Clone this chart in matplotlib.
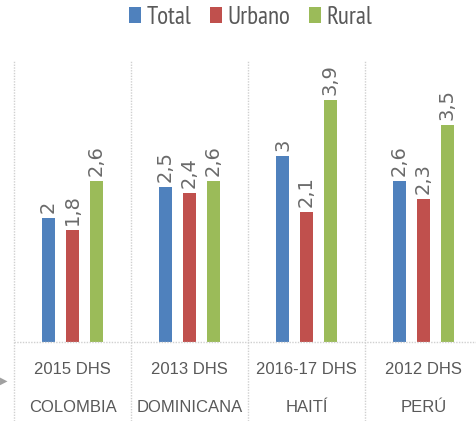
import matplotlib.pyplot as plt
import numpy as np
from matplotlib import font_manager

# data
surveys = ['2015 DHS', '2013 DHS', '2016-17 DHS', '2012 DHS']
countries = ['COLOMBIA', 'DOMINICANA', 'HAITÍ', 'PERÚ']
series = ['Total', 'Urbano', 'Rural']
total = [2.0, 2.5, 3.0, 2.6]
urbano = [1.8, 2.4, 2.1, 2.3]
rural = [2.6, 2.6, 3.9, 3.5]
colors = ['#4F81BD', '#C0504D', '#9BBB59']

names = {f.name for f in font_manager.fontManager.ttflist}


def pick(*cands):
    for c in cands:
        if c in names:
            return c
    return 'DejaVu Sans'


narrow = pick('PT Sans Narrow', 'Open Sans Condensed', 'Archivo Narrow', 'Roboto Condensed')
plt.rcParams['font.family'] = ['DejaVu Sans']
grey = '#595959'

W, H = 477, 421
fig = plt.figure(figsize=(W / 100, H / 100), dpi=100)
base_y = 342
top_y = 61
left_x = 14
right_x = 482
ax = fig.add_axes([left_x / W, (H - base_y) / H, (right_x - left_x) / W, (base_y - top_y) / H])

x = np.arange(len(surveys))
step = 0.205
width = 0.115
for i, (vals, c, name) in enumerate(zip([total, urbano, rural], colors, series)):
    pos = x + (i - 1) * step
    ax.bar(pos, vals, width, color=c, label=name)
    for p, v in zip(pos, vals):
        lbl = ('%g' % v).replace('.', ',')
        ax.text(p, v + 0.08, lbl, rotation=90, ha='center', va='bottom',
                fontsize=14, color='#6a6a6a')

ax.set_xlim(-0.5, 3.5)
ax.set_ylim(0, (base_y - top_y) / 62)
ax.axis('off')

# dotted separators and baseline
ymin = -(H - base_y) / (base_y - top_y)
for s in np.arange(-0.5, 4.0, 1.0):
    ax.axvline(s, ymin=ymin, ymax=1, color='#D0D0D0', lw=1, ls=(0, (1, 1)), clip_on=False)
ax.axhline(0, color='#D0D0D0', lw=1, ls=(0, (1, 1)), clip_on=False)

trans = ax.get_xaxis_transform()
for xi, s, c in zip(x, surveys, countries):
    ax.text(xi, -(370 - base_y) / (base_y - top_y), s, family='Liberation Sans',
            transform=trans, ha='center', va='center', fontsize=12, color=grey)
    ax.text(xi, -(408 - base_y) / (base_y - top_y), c, family='Liberation Sans',
            transform=trans, ha='center', va='center', fontsize=12, color=grey)

# small arrow at left
fig.text(0, 1 - 381 / H, '\u25B6', fontsize=7, color='#A0A0A0', va='center', ha='left')

leg = fig.legend(loc='center', bbox_to_anchor=(251 / W, 1 - 17 / H), ncol=3, frameon=False,
                 handlelength=0.48, handleheight=0.6, handletextpad=0.22,
                 columnspacing=0.75, labelcolor=grey,
                 prop={'family': narrow, 'size': 18})

fig.savefig('out.png', dpi=100)
